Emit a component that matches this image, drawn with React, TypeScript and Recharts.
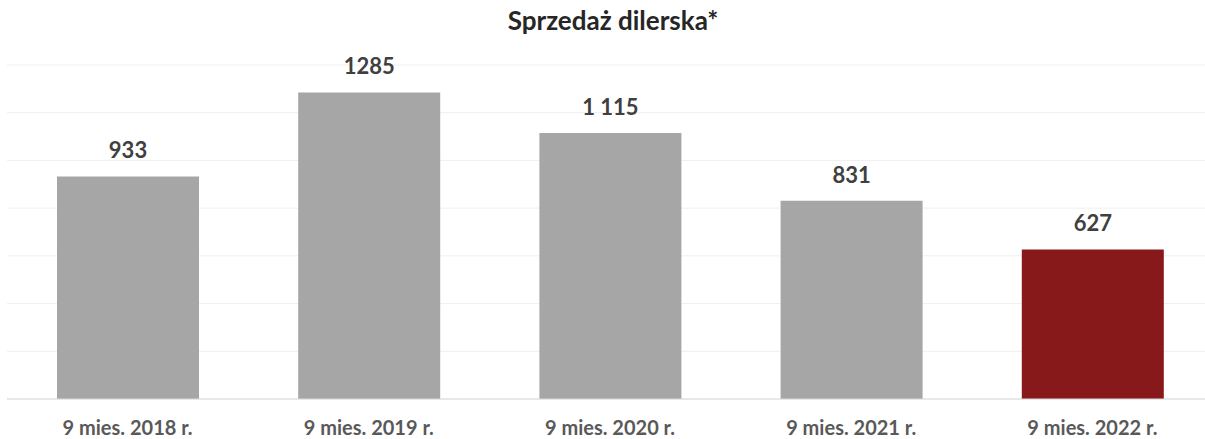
import { BarChart, Bar, XAxis, YAxis, CartesianGrid, Cell, LabelList } from "recharts";

const categories = ["9 mies. 2018 r.", "9 mies. 2019 r.", "9 mies. 2020 r.", "9 mies. 2021 r.", "9 mies. 2022 r."];
const sales = [933, 1285, 1115, 831, 627];
const valueLabels = ["933", "1285", "1 115", "831", "627"];
const barColors = ["#a6a6a6", "#a6a6a6", "#a6a6a6", "#a6a6a6", "#87191a"];
const yTicks = [0, 200, 400, 600, 800, 1000, 1200, 1400];

const data = categories.map((name, i) => ({
  name,
  value: sales[i],
  label: valueLabels[i],
}));

const font = "Lato, 'Open Sans', sans-serif";

export default function App() {
  return (
    <div
      style={{
        position: "absolute",
        left: 0,
        top: 0,
        width: 1205,
        height: 439,
        overflow: "hidden",
        background: "#ffffff",
        fontFamily: font,
      }}
    >
      <div
        style={{
          position: "absolute",
          left: 613,
          top: 7,
          transform: "translateX(-50%)",
          fontSize: 26,
          lineHeight: "26px",
          fontWeight: 700,
          color: "#262626",
          whiteSpace: "nowrap",
        }}
      >
        Sprzedaż dilerska*
      </div>
      <BarChart
        width={1213}
        height={439}
        data={data}
        margin={{ top: 65, right: 0, bottom: 0, left: 7 }}
        style={{ position: "absolute", left: 0, top: 0 }}
      >
        <CartesianGrid vertical={false} stroke="#efefef" strokeWidth={1} />
        <YAxis hide domain={[0, 1400]} ticks={yTicks} />
        <XAxis
          dataKey="name"
          height={40}
          axisLine={{ stroke: "#d9d9d9", strokeWidth: 1 }}
          tickLine={false}
          tickSize={0}
          tickMargin={22}
          interval={0}
          tick={{ fill: "#595959", fontSize: 20, fontWeight: 700, fontFamily: font }}
        />
        <Bar dataKey="value" barSize={142} isAnimationActive={false}>
          {data.map((d, i) => (
            <Cell key={d.name} fill={barColors[i]} />
          ))}
          <LabelList
            dataKey="label"
            position="top"
            offset={18}
            fill="#404040"
            fontSize={22}
            fontWeight={700}
            fontFamily={font}
          />
        </Bar>
      </BarChart>
    </div>
  );
}
